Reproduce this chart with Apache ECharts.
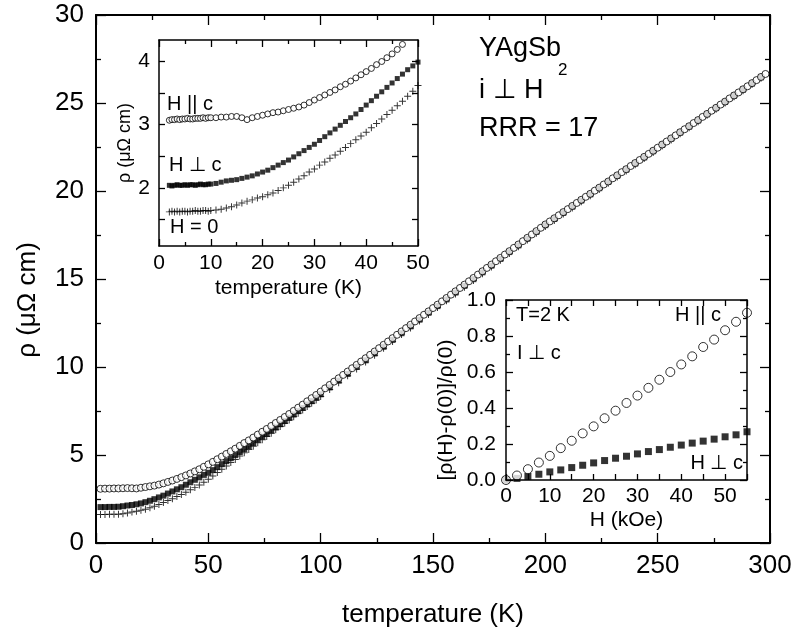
<!DOCTYPE html>
<html><head><meta charset="utf-8">
<script src="https://cdn.jsdelivr.net/npm/echarts@6/dist/echarts.min.js"></script>
<style>html,body{margin:0;padding:0;background:#fff}#c{width:796px;height:634px}</style>
</head><body><div id="c"></div>
<script>
// ---------- main panel: rho(T) ----------
const mainTempPar = [2,4,6,8,10,12,14,16,18,20,22,24,26,28,30,32,34,36,38,40,42,44,46,48,50,
52,54,56,58,60,62,64,66,68,70,72,74,76,78,80,82,84,86,88,90,92,94,96,98,100,
102,104,106,108,110,112,114,116,118,120,122,124,126,128,130,132,134,136,138,140,142,144,146,148,150,
152,154,156,158,160,162,164,166,168,170,172,174,176,178,180,182,184,186,188,190,192,194,196,198,200,
202,204,206,208,210,212,214,216,218,220,222,224,226,228,230,232,234,236,238,240,242,244,246,248,250,
252,254,256,258,260,262,264,266,268,270,272,274,276,278,280,282,284,286,288,290,292,294,296,298];
const mainRhoPar = [3.08,3.09,3.09,3.10,3.10,3.11,3.12,3.11,3.10,3.14,3.18,3.22,3.26,3.32,3.39,3.47,3.55,3.64,3.74,3.84,3.95,4.07,4.19,4.33,4.47,
4.61,4.76,4.91,5.06,5.21,5.36,5.52,5.68,5.83,5.99,6.16,6.32,6.48,6.65,6.82,6.99,7.16,7.33,7.51,7.69,7.86,8.05,8.23,8.41,8.60,
8.79,8.98,9.17,9.36,9.55,9.74,9.93,10.12,10.31,10.50,10.69,10.88,11.07,11.26,11.45,11.64,11.83,12.02,12.21,12.40,12.59,12.78,12.97,13.16,13.35,
13.54,13.73,13.92,14.11,14.30,14.49,14.68,14.87,15.06,15.25,15.44,15.63,15.82,16.01,16.20,16.39,16.58,16.77,16.96,17.15,17.34,17.53,17.72,17.91,18.10,
18.27,18.45,18.62,18.80,18.97,19.15,19.32,19.50,19.67,19.84,20.02,20.19,20.37,20.54,20.72,20.89,21.07,21.24,21.42,21.59,21.76,21.94,22.11,22.29,22.46,
22.64,22.81,22.99,23.16,23.34,23.51,23.68,23.86,24.03,24.21,24.38,24.56,24.73,24.91,25.08,25.26,25.43,25.60,25.78,25.95,26.13,26.30,26.48,26.65];

const mainTemp = [2,4,6,8,10,12,14,16,18,20,22,24,26,28,30,32,34,36,38,40,42,44,46,48,50,
52,54,56,58,60,62,64,66,68,70,72,74,76,78,80,82,84,86,88,90,92,94,96,98,100,
104,108,112,116,120,124,128,132,136,140,144,148,152,156,160,164,168,172,176,180,184,188,192,196,200,
204,208,212,216,220,224,228,232,236,240,244,248,252,256,260,264,268,272,276,280,284,288,292,296];
const mainRhoPerp = [2.04,2.04,2.05,2.05,2.06,2.09,2.13,2.16,2.20,2.25,2.32,2.40,2.49,2.59,2.69,2.81,2.93,3.05,3.17,3.31,3.45,3.59,3.73,3.87,3.99,
4.14,4.31,4.48,4.65,4.82,4.99,5.17,5.34,5.51,5.68,5.87,6.04,6.21,6.39,6.57,6.75,6.93,7.11,7.30,7.49,7.67,7.87,8.06,8.25,8.45,
8.84,9.23,9.61,10.00,10.38,10.77,11.15,11.54,11.92,12.31,12.69,13.08,13.46,13.84,14.23,14.61,14.99,15.38,15.76,16.14,16.53,16.91,17.29,17.67,18.06,
18.41,18.76,19.11,19.46,19.81,20.16,20.51,20.86,21.21,21.56,21.91,22.26,22.62,22.97,23.32,23.66,24.01,24.36,24.71,25.06,25.41,25.76,26.11,26.46];
const mainRhoZero = [1.62,1.62,1.63,1.63,1.64,1.66,1.70,1.76,1.81,1.86,1.92,2.00,2.09,2.19,2.30,2.41,2.52,2.64,2.76,2.88,3.02,3.16,3.30,3.45,3.62,
3.81,4.00,4.19,4.38,4.57,4.75,4.94,5.13,5.31,5.50,5.69,5.87,6.05,6.24,6.43,6.62,6.81,6.99,7.18,7.37,7.55,7.75,7.94,8.13,8.33,
8.72,9.11,9.50,9.89,10.28,10.67,11.06,11.45,11.84,12.22,12.61,12.99,13.38,13.76,14.15,14.53,14.92,15.30,15.68,16.07,16.45,16.83,17.22,17.60,17.98,
18.33,18.69,19.04,19.39,19.73,20.08,20.44,20.79,21.14,21.49,21.84,22.19,22.55,22.90,23.25,23.59,23.94,24.30,24.65,25.00,25.35,25.70,26.05,26.40];

// ---------- inset 1: low-T rho ----------
const insetTempPar = [2,2.5,3,3.5,4,4.5,5,5.5,6,6.5,7,7.5,8,8.5,9,9.5,10,
11,12,13,14,15,16,17,18,19,20,21,22,23,24,25,26,27,28,29,30,31,32,33,34,35,36,37,38,39,40,41,42,43,44,45,46,47];
const insetRhoPar = [3.07,3.08,3.08,3.09,3.08,3.09,3.09,3.10,3.09,3.09,3.10,3.10,3.10,3.11,3.10,3.11,3.11,
3.11,3.12,3.12,3.13,3.13,3.11,3.08,3.11,3.13,3.15,3.17,3.19,3.20,3.22,3.24,3.26,3.28,3.31,3.35,3.39,3.43,3.47,3.51,3.55,3.60,3.64,3.69,3.74,3.79,3.84,3.89,3.95,4.00,4.06,4.12,4.19,4.27];
const insetTemp = [2,2.5,3,3.5,4,4.5,5,5.5,6,6.5,7,7.5,8,8.5,9,9.5,10,
11,12,13,14,15,16,17,18,19,20,21,22,23,24,25,26,27,28,29,30,31,32,33,34,35,36,37,38,39,40,41,42,43,44,45,46,47,48,49,50];
const insetRhoPerp = [2.04,2.03,2.04,2.05,2.04,2.04,2.05,2.04,2.05,2.05,2.04,2.05,2.06,2.05,2.05,2.06,2.06,
2.07,2.09,2.11,2.12,2.13,2.15,2.17,2.19,2.22,2.25,2.28,2.32,2.36,2.40,2.44,2.49,2.54,2.59,2.64,2.69,2.75,2.81,2.87,2.93,2.99,3.05,3.11,3.17,3.24,3.31,3.38,3.45,3.52,3.59,3.66,3.73,3.80,3.87,3.93,3.99];
const insetRhoZero = [1.62,1.63,1.62,1.63,1.62,1.63,1.63,1.62,1.63,1.63,1.64,1.63,1.63,1.64,1.64,1.63,1.64,
1.65,1.66,1.68,1.70,1.73,1.76,1.79,1.81,1.84,1.86,1.89,1.92,1.96,2.00,2.04,2.09,2.14,2.19,2.25,2.30,2.36,2.41,2.47,2.52,2.58,2.64,2.70,2.76,2.82,2.88,2.95,3.02,3.09,3.16,3.23,3.30,3.37,3.45,3.53,3.62];
const insetYLabels = [2, 3, 4];
const insetYTicks = [1.5, 2, 2.5, 3, 3.5, 4];

// ---------- inset 2: magnetoresistance at 2 K ----------
const fieldH = [0,2.5,5,7.5,10,12.5,15,17.5,20,22.5,25,27.5,30,32.5,35,37.5,40,42.5,45,47.5,50,52.5,55];
const mrPar = [0.0,0.025,0.06,0.097,0.134,0.177,0.218,0.259,0.298,0.343,0.385,0.428,0.469,0.512,0.557,0.6,0.642,0.687,0.739,0.78,0.832,0.879,0.929];
const mrPerp = [0.0,0.009,0.02,0.032,0.045,0.056,0.069,0.082,0.095,0.108,0.121,0.132,0.145,0.158,0.169,0.182,0.194,0.205,0.216,0.227,0.24,0.251,0.268];

const FONT = '"Liberation Sans", Arial, Helvetica, sans-serif';
const zip = (xs, ys) => xs.map((x, i) => [x, ys[i]]);
const CROSS = 'path://M4.3,0H5.7V4.3H10V5.7H5.7V10H4.3V5.7H0V4.3H4.3Z';

function ax(o) {
  const lw = o.lw || 1.5;
  const a = {
    type: 'value', gridIndex: o.grid, position: o.pos, min: o.min, max: o.max,
    splitLine: { show: false },
    axisLine: { show: true, onZero: false, lineStyle: { color: '#000', width: lw } },
    axisTick: { show: true, inside: true, length: o.tick || 8, lineStyle: { color: '#000', width: 1.3 } },
    axisLabel: { show: !!o.label, color: '#000', fontFamily: FONT, fontSize: o.fs || 21, margin: o.margin || 8 },
    minorTick: { show: !!o.minor, splitNumber: 2, length: o.minor || 4, lineStyle: { color: '#000', width: 1.3 } },
    z: 5
  };
  if (o.interval !== undefined) a.interval = o.interval;
  if (o.formatter) a.axisLabel.formatter = o.formatter;
  if (o.labelValues) a.axisLabel.customValues = o.labelValues;
  if (o.tickValues) a.axisTick.customValues = o.tickValues;
  if (o.name) {
    a.name = o.name; a.nameLocation = 'middle'; a.nameGap = o.nameGap;
    a.nameTextStyle = { color: '#000', fontFamily: FONT, fontSize: o.nfs || o.fs || 21 };
  }
  return a;
}

const chart = echarts.init(document.getElementById('c'), null, { renderer: 'canvas' });
const txt = (x, y, s, fs, align, rot) => ({
  type: 'text', x: x, y: y, z: 50, rotation: rot || 0,
  style: { text: s, fontFamily: FONT, fontSize: fs, fill: '#000', align: align || 'left', verticalAlign: 'middle' }
});

chart.setOption({
  animation: false,
  backgroundColor: '#fff',
  grid: [
    { left: 96, top: 15, width: 674, height: 528 },
    { left: 159, top: 40, width: 259, height: 206 },
    { left: 506, top: 300, width: 241, height: 180 }
  ],
  xAxis: [
    ax({ grid: 0, pos: 'bottom', min: 0, max: 300, interval: 50, label: true, fs: 26, margin: 10, tick: 10, minor: 5, lw: 2,
         name: 'temperature (K)', nameGap: 59 }),
    ax({ grid: 0, pos: 'top', min: 0, max: 300, interval: 50, tick: 10, minor: 5, lw: 2 }),
    ax({ grid: 1, pos: 'bottom', min: 0, max: 50, interval: 10, label: true, fs: 21, margin: 7, tick: 7, minor: 4,
         name: 'temperature (K)', nameGap: 32 }),
    ax({ grid: 1, pos: 'top', min: 0, max: 50, interval: 10, tick: 7, minor: 4 }),
    ax({ grid: 2, pos: 'bottom', min: 0, max: 55, interval: 5, label: true, fs: 21, margin: 6, tick: 6,
         formatter: v => (v % 10 === 0 && v <= 50) ? String(v) : '', name: 'H (kOe)', nameGap: 30 }),
    ax({ grid: 2, pos: 'top', min: 0, max: 55, interval: 5, tick: 6 })
  ],
  yAxis: [
    ax({ grid: 0, pos: 'left', min: 0, max: 30, interval: 5, label: true, fs: 26, margin: 12, tick: 10, minor: 5, lw: 2 }),
    ax({ grid: 0, pos: 'right', min: 0, max: 30, interval: 5, tick: 10, minor: 5, lw: 2 }),
    ax({ grid: 1, pos: 'left', min: 1.08, max: 4.34, label: true, fs: 21, margin: 9, tick: 6,
         labelValues: insetYLabels, tickValues: insetYTicks, name: 'ρ (μΩ cm)', nameGap: 22, nfs: 18 }),
    ax({ grid: 1, pos: 'right', min: 1.08, max: 4.34, tick: 6, labelValues: insetYLabels, tickValues: insetYTicks }),
    ax({ grid: 2, pos: 'left', min: 0, max: 1, interval: 0.2, label: true, fs: 21, margin: 10, tick: 7, minor: 4,
         formatter: v => v.toFixed(1) }),
    ax({ grid: 2, pos: 'right', min: 0, max: 1, interval: 0.2, tick: 7, minor: 4 })
  ],
  series: [
    { type: 'scatter', xAxisIndex: 0, yAxisIndex: 0, symbol: CROSS, symbolSize: 7,
      itemStyle: { color: '#000' }, data: zip(mainTemp, mainRhoZero) },
    { type: 'scatter', xAxisIndex: 0, yAxisIndex: 0, symbol: 'rect', symbolSize: 6,
      itemStyle: { color: '#000' }, data: zip(mainTemp, mainRhoPerp) },
    { type: 'scatter', xAxisIndex: 0, yAxisIndex: 0, symbol: 'circle', symbolSize: 7,
      itemStyle: { color: '#fff', borderColor: '#000', borderWidth: 1 }, data: zip(mainTempPar, mainRhoPar) },

    { type: 'scatter', xAxisIndex: 2, yAxisIndex: 2, symbol: CROSS, symbolSize: 7,
      itemStyle: { color: '#000' }, data: zip(insetTemp, insetRhoZero) },
    { type: 'scatter', xAxisIndex: 2, yAxisIndex: 2, symbol: 'rect', symbolSize: 5,
      itemStyle: { color: '#000' }, data: zip(insetTemp, insetRhoPerp) },
    { type: 'scatter', xAxisIndex: 2, yAxisIndex: 2, symbol: 'circle', symbolSize: 6,
      itemStyle: { color: '#fff', borderColor: '#000', borderWidth: 1 }, data: zip(insetTempPar, insetRhoPar) },

    { type: 'scatter', xAxisIndex: 4, yAxisIndex: 4, symbol: 'rect', symbolSize: 7,
      itemStyle: { color: '#000' }, data: zip(fieldH, mrPerp) },
    { type: 'scatter', xAxisIndex: 4, yAxisIndex: 4, symbol: 'circle', symbolSize: 9,
      itemStyle: { color: '#fff', borderColor: '#000', borderWidth: 1 }, data: zip(fieldH, mrPar) }
  ],
  graphic: [
    txt(479, 49, 'YAgSb', 27),
    txt(558, 70, '2', 17),
    txt(479, 91, 'i ⊥ H', 27),
    txt(479, 129, 'RRR = 17', 27),
    txt(167, 104, 'H || c', 20),
    txt(169, 165, 'H ⊥ c', 20),
    txt(170, 227, 'H = 0', 20),
    txt(516, 315, 'T=2 K', 20),
    txt(517, 353, 'I ⊥ c', 20),
    txt(721, 315, 'H || c', 20, 'right'),
    txt(743, 463, 'H ⊥ c', 20, 'right'),
    txt(446, 410, '[ρ(H)-ρ(0)]/ρ(0)', 21, 'center', Math.PI / 2),
    txt(28, 300, 'ρ (μΩ cm)', 26, 'center', Math.PI / 2)
  ]
});
</script>
</body></html>
